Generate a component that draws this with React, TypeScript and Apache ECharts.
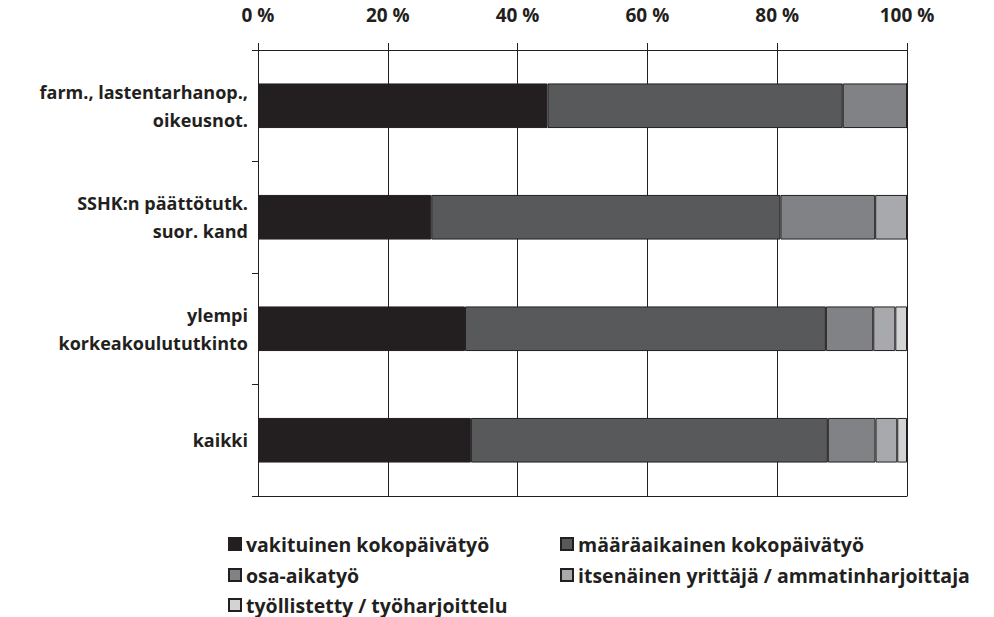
import React, { useEffect, useRef } from "react";
import * as echarts from "echarts";

const categories = [
  "farm., lastentarhanop.,\noikeusnot.",
  "SSHK:n päättötutk.\nsuor. kand",
  "ylempi\nkorkeakoulututkinto",
  "kaikki",
];

const seriesNames = [
  "vakituinen kokopäivätyö",
  "määräaikainen kokopäivätyö",
  "osa-aikatyö",
  "itsenäinen yrittäjä / ammatinharjoittaja",
  "työllistetty / työharjoittelu",
];

const vakituinen = [44.6, 26.7, 31.9, 32.8];
const maaraaikainen = [45.5, 53.8, 55.6, 55.0];
const osaAika = [9.9, 14.6, 7.3, 7.35];
const itsenainen = [0, 4.9, 3.4, 3.35];
const tyollistetty = [0, 0, 1.8, 1.5];

const seriesValues = [vakituinen, maaraaikainen, osaAika, itsenainen, tyollistetty];
const colors = ["#231f20", "#58595b", "#808285", "#a7a9ac", "#d1d3d4"];

const xTicks = [0, 20, 40, 60, 80, 100];

// legend placement: [left, top] per series
const legendPlaces = [
  [228, 534],
  [560, 534],
  [228, 565],
  [560, 565],
  [228, 595],
];

const FONT = "'Open Sans', 'Noto Sans', sans-serif";
const INK = "#231f20";

export default function App() {
  const ref = useRef<HTMLDivElement>(null);

  useEffect(() => {
    if (!ref.current) return;
    const chart = echarts.init(ref.current, null, { renderer: "svg" });
    const legendText = {
      color: INK,
      fontFamily: FONT,
      fontWeight: "bold" as const,
      fontSize: 19.5,
      lineHeight: 20,
    };
    chart.setOption({
      animation: false,
      backgroundColor: "#ffffff",
      textStyle: { fontFamily: FONT },
      grid: { left: 258, right: 87, top: 50, bottom: 121, containLabel: false },
      legend: seriesNames.map((name, i) => ({
        orient: "horizontal",
        left: legendPlaces[i][0],
        top: legendPlaces[i][1],
        padding: 0,
        itemWidth: 12,
        itemHeight: 12,
        itemGap: 0,
        icon: "rect",
        data: [name],
        textStyle: legendText,
        selectedMode: false,
      })),
      xAxis: [
        {
          type: "value",
          position: "top",
          min: xTicks[0],
          max: xTicks[xTicks.length - 1],
          interval: 20,
          axisLine: { show: true, lineStyle: { color: INK, width: 1 } },
          axisTick: { show: true, length: 7, lineStyle: { color: INK, width: 1 } },
          axisLabel: {
            formatter: "{value} %",
            color: INK,
            fontFamily: FONT,
            fontWeight: "bold",
            fontSize: 19,
            margin: 26,
          },
          splitLine: { show: true, lineStyle: { color: INK, width: 1 } },
        },
        {
          type: "value",
          position: "bottom",
          min: 0,
          max: 100,
          interval: 20,
          axisLine: { show: true, onZero: false, lineStyle: { color: INK, width: 1 } },
          axisTick: { show: false },
          axisLabel: { show: false },
          splitLine: { show: false },
        },
      ],
      yAxis: {
        type: "category",
        inverse: true,
        data: categories,
        axisLine: { show: true, lineStyle: { color: INK, width: 1 } },
        axisTick: { show: true, length: 6, lineStyle: { color: INK, width: 1 } },
        axisLabel: {
          color: INK,
          fontFamily: FONT,
          fontWeight: "bold",
          fontSize: 18,
          lineHeight: 28,
          margin: 10,
          align: "right",
        },
      },
      series: seriesNames.map((name, i) => ({
        name,
        type: "bar",
        stack: "total",
        xAxisIndex: 0,
        barWidth: "40%",
        data: seriesValues[i],
        itemStyle: { color: colors[i], borderColor: INK, borderWidth: 1 },
        emphasis: { disabled: true },
      })),
    });
    return () => chart.dispose();
  }, []);

  return (
    <div
      ref={ref}
      style={{ position: "absolute", left: 0, top: 0, width: 994, height: 617 }}
    />
  );
}
